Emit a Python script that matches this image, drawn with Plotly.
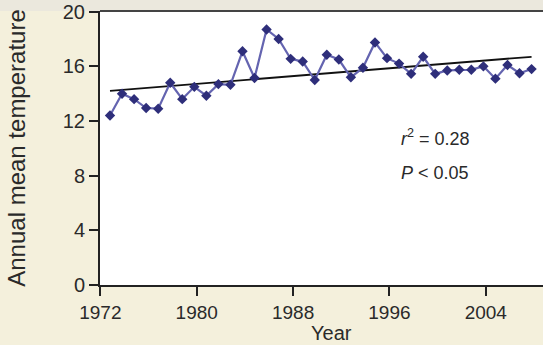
import plotly.graph_objects as go

years = list(range(1972, 2008))
temps = [12.4, 14.0, 13.6, 12.95, 12.9, 14.8, 13.6, 14.5, 13.85, 14.7,
         14.65, 17.1, 15.15, 18.7, 18.0, 16.55, 16.35, 15.0, 16.85, 16.5,
         15.2, 15.9, 17.75, 16.6, 16.2, 15.45, 16.7, 15.45, 15.7, 15.75,
         15.75, 16.0, 15.1, 16.1, 15.5, 15.8]
trend_years = [1972, 2007]
trend_vals = [14.2, 16.7]
tick_years = [1972, 1980, 1988, 1996, 2004]
tick_offset = 0.8  # labels sit slightly left of the data years in the reference

font = "Liberation Sans, Arial, sans-serif"

fig = go.Figure()
fig.add_trace(go.Scatter(x=trend_years, y=trend_vals, mode="lines",
                         line=dict(color="#111111", width=1.8), hoverinfo="skip"))
fig.add_trace(go.Scatter(x=years, y=temps, mode="lines+markers",
                         line=dict(color="#6464b0", width=2.2),
                         marker=dict(symbol="diamond", size=8, color="#2e2e7a")))

fig.add_annotation(x=0.675, y=0.54, xref="paper", yref="paper", xanchor="left",
                   text="<i>r</i><sup>2</sup> = 0.28", showarrow=False,
                   font=dict(family=font, size=18, color="#2a2a2a"))
fig.add_annotation(x=0.675, y=0.41, xref="paper", yref="paper", xanchor="left",
                   text="<i>P</i> < 0.05", showarrow=False,
                   font=dict(family=font, size=18, color="#2a2a2a"))
fig.add_annotation(x=0.522, y=-0.175, xref="paper", yref="paper",
                   xanchor="center", yanchor="middle",
                   text="Year", showarrow=False,
                   font=dict(family=font, size=20, color="#2a2a2a"))

fig.add_shape(type="rect", xref="paper", yref="paper", x0=-1, x1=1.1,
              y0=1.0, y1=1.2, fillcolor="#ebe8dd", line_width=0, layer="below")
fig.add_shape(type="line", xref="paper", yref="paper", x0=0, x1=1.05,
              y0=1.0, y1=1.0, line=dict(color="#444", width=2))

fig.update_layout(
    width=543, height=345,
    margin=dict(l=100, r=0, t=11, b=60),
    paper_bgcolor="#f4f0dc", plot_bgcolor="#ffffff",
    showlegend=False,
    font=dict(family=font, color="#2a2a2a"),
)
fig.update_xaxes(range=[1971.17, 2007.95],
                 tickvals=[t - tick_offset for t in tick_years],
                 ticktext=[str(t) for t in tick_years],
                 ticks="outside", ticklen=9, tickwidth=1.5, tickcolor="#222",
                 showline=True, linecolor="#222", linewidth=2,
                 showgrid=False, zeroline=False,
                 tickfont=dict(size=19))
fig.update_yaxes(range=[0, 20.05], tickvals=[0, 4, 8, 12, 16, 20],
                 ticks="outside", ticklen=9, tickwidth=1.5, tickcolor="#222",
                 showline=True, linecolor="#222", linewidth=2,
                 showgrid=False, zeroline=False,
                 tickfont=dict(size=20),
                 title=dict(text="Annual mean temperature", font=dict(size=24), standoff=30))

fig.write_html("out.html")
